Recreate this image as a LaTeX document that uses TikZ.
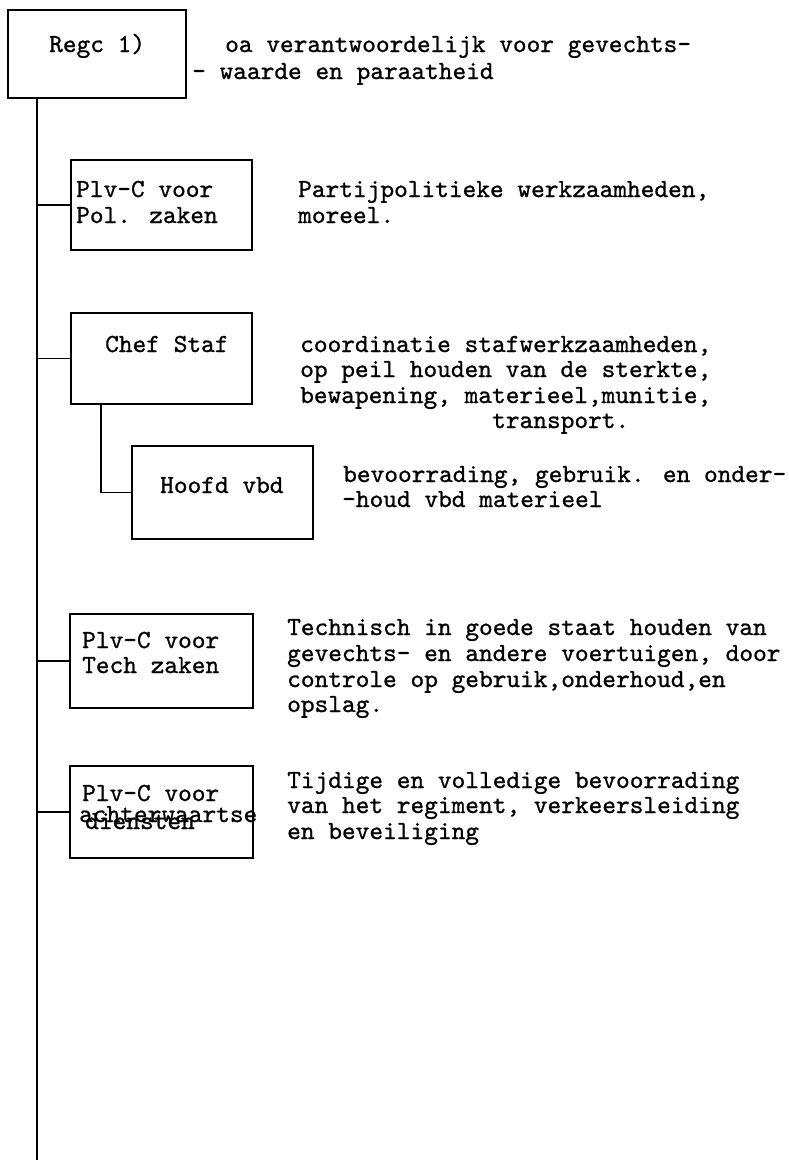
\documentclass[tikz,border=0pt]{standalone}
\usepackage{fontspec}
\newfontfamily\typew{lmmono10-regular.otf}[FakeBold=0.9]
\begin{document}
\begin{tikzpicture}[x=1pt,y=-1pt,
  box/.style={draw, line width=1.6pt, rectangle, anchor=north west, inner sep=0pt},
  lbl/.style={anchor=base west, inner sep=0pt, font=\typew\fontsize{26.1}{25.5}\selectfont},
  conn/.style={line width=1.4pt}]
\useasboundingbox (0,0) rectangle (789,1162);
% boxes
\node[box, minimum width=178pt, minimum height=88pt] (regc) at (7,9) {};
\node[box, minimum width=181pt, minimum height=90pt] (pol) at (70,159) {};
\node[box, minimum width=181pt, minimum height=91pt] (chef) at (70,312) {};
\node[box, minimum width=181pt, minimum height=93pt] (hoofd) at (131,445) {};
\node[box, minimum width=183pt, minimum height=94pt] (tech) at (69,613) {};
\node[box, minimum width=183pt, minimum height=92pt] (achter) at (69,765) {};
% box labels
\node[lbl] (tregc) at (49,52) {Regc 1)};
\node[lbl] (tpol1) at (76,197) {Plv-C voor};
\node[lbl] (tpol2) at (76,223) {Pol. zaken};
\node[lbl] (tchef) at (105,352) {Chef Staf};
\node[lbl] (thoofd) at (160,493) {Hoofd vbd};
\node[lbl] (ttech1) at (82,648) {Plv-C voor};
\node[lbl] (ttech2) at (82,673) {Tech zaken};
\node[lbl] (tach1) at (82,801) {Plv-C voor};
\node[lbl] (tach2) at (79,822) {achterwaartse};
\node[lbl] (tach3) at (85,829) {diensten};
% descriptions
\node[lbl] (d1a) at (225,52) {oa verantwoordelijk voor gevechts-};
\node[lbl] (d1b) at (192,79) {- waarde en paraatheid};
\node[lbl] (d2a) at (298,197) {Partijpolitieke werkzaamheden,};
\node[lbl] (d2b) at (298,223) {moreel.};
\node[lbl] (d3a) at (300,352) {coordinatie stafwerkzaamheden,};
\node[lbl] (d3b) at (300,377) {op peil houden van de sterkte,};
\node[lbl] (d3c) at (300,403) {bewapening, materieel,munitie,};
\node[lbl] (d3d) at (492,428) {transport.};
\node[lbl] (d4a) at (343,482) {bevoorrading, gebruik. en onder-};
\node[lbl] (d4b) at (342,507) {-houd vbd materieel};
\node[lbl] (d5a) at (287,635) {Technisch in goede staat houden van};
\node[lbl] (d5b) at (287,661) {gevechts- en andere voertuigen, door};
\node[lbl] (d5c) at (287,687) {controle op gebruik,onderhoud,en};
\node[lbl] (d5d) at (287,712) {opslag.};
\node[lbl] (d6a) at (287,788) {Tijdige en volledige bevoorrading};
\node[lbl] (d6b) at (287,813) {van het regiment, verkeersleiding};
\node[lbl] (d6c) at (287,839) {en beveiliging};
% connectors
\coordinate (mainend) at (37,1160);
\coordinate (subx) at (101,492);
\draw[conn] (regc.south -| mainend) -- (mainend);
\draw[conn] (pol.west -| mainend) -- (pol.west);
\draw[conn] (chef.west -| mainend) -- (chef.west);
\draw[conn] (tech.west -| mainend) -- (tech.west);
\draw[conn] (achter.west -| mainend) -- (achter.west);
\draw[conn] (chef.south -| subx) -- (hoofd.west -| subx) -- (hoofd.west);
\end{tikzpicture}
\end{document}
